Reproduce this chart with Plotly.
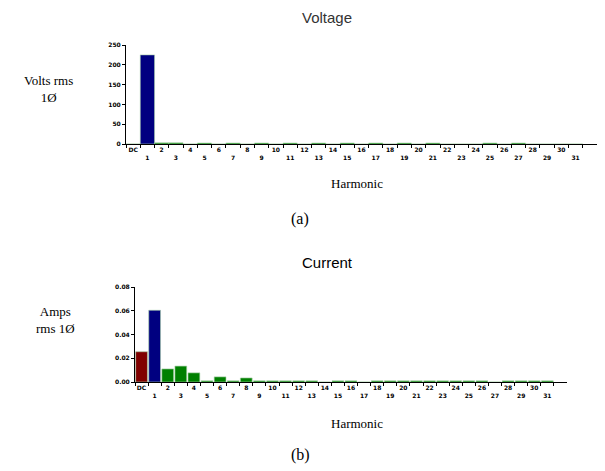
import plotly.graph_objects as go

categories = ["DC"] + [str(i) for i in range(1, 32)]

# Voltage (Volts rms) per harmonic
voltage = [0, 225, 3, 3, 0, 2.5, 0, 2.5, 0, 2.5, 0, 2.5, 0, 2.5, 0, 2.5, 0,
           2.5, 0, 2.5, 0, 2.5, 0, 0, 0, 2.5, 0, 2.5, 0, 0, 0, 0]
# Current (Amps rms) per harmonic
current = [0.0255, 0.0604, 0.0110, 0.0134, 0.0077, 0.0010, 0.0043, 0.0010, 0.0034,
           0.0010, 0.0010, 0.0010, 0.0010, 0.0010, 0, 0.0010, 0.0010, 0,
           0.0010, 0.0010, 0.0010, 0.0010, 0.0010, 0.0010, 0.0010, 0.0010, 0.0010,
           0, 0.0010, 0.0010, 0.0010, 0.0010]

volt_ticks = ["0", "50", "100", "150", "200", "250"]
amp_ticks = ["0.00", "0.02", "0.04", "0.06", "0.08"]

RED, BLUE, GREEN = "#800000", "#000080", "#008000"

def colors(n):
    return [RED] + [BLUE] + [GREEN] * (n - 2)

ticktext = [c if i % 2 == 0 else "<br>" + c for i, c in enumerate(categories)]

W, H = 605, 471

def px_x(a, b):
    return [a / W, b / W]

def px_y(top, bottom):
    return [1 - bottom / H, 1 - top / H]

fig = go.Figure()
fig.add_trace(go.Bar(x=categories, y=voltage, marker=dict(color=colors(len(voltage)),
                     line=dict(color="#a8d0a8", width=0.6)),
                     width=1.0, xaxis="x", yaxis="y", showlegend=False))
fig.add_trace(go.Bar(x=categories, y=current, marker=dict(color=colors(len(current)),
                     line=dict(color="#a8d0a8", width=0.6)),
                     width=0.9, xaxis="x2", yaxis="y2", showlegend=False))

tickfont = dict(family="DejaVu Sans", size=6, color="#000", weight="bold")
xcommon = dict(type="category", tickmode="array", tickvals=categories, ticktext=ticktext,
               tickfont=tickfont, showline=True, linecolor="#000", linewidth=1,
               ticks="outside", ticklen=3, tickson="boundaries", tickcolor="#000",
               showgrid=False, zeroline=False, fixedrange=True, tickangle=0,
               automargin=False)
ycommon = dict(showline=True, linecolor="#000", linewidth=1, ticks="outside", ticklen=3,
               tickcolor="#000", tickfont=tickfont, showgrid=False, zeroline=False,
               tickmode="array", fixedrange=True, automargin=False)

fig.update_layout(
    width=W, height=H, margin=dict(l=0, r=0, t=0, b=0, pad=0, autoexpand=False),
    paper_bgcolor="white", plot_bgcolor="white", bargap=0,
    xaxis=dict(domain=px_x(126, 597), anchor="y", range=[-0.5, 32.5], **xcommon),
    yaxis=dict(domain=px_y(45, 144), anchor="x", range=[0, 250],
               tickvals=[0, 50, 100, 150, 200, 250], ticktext=volt_ticks, **ycommon),
    xaxis2=dict(domain=px_x(135, 567), anchor="y2", range=[-0.5, 32.5], **xcommon),
    yaxis2=dict(domain=px_y(287, 382), anchor="x2", range=[0, 0.08],
                tickvals=[0, 0.02, 0.04, 0.06, 0.08], ticktext=amp_ticks, **ycommon),
)

serif = "Liberation Serif"
ann = [
    dict(text="Voltage", x=327, y=18, font=dict(family="Arial", size=15, color="#333")),
    dict(text="Volts rms<br>1Ø", x=48, y=89, font=dict(family=serif, size=13, color="#000")),
    dict(text="Harmonic", x=357, y=183, font=dict(family=serif, size=13, color="#000")),
    dict(text="(a)", x=300, y=219, font=dict(family=serif, size=16, color="#000")),
    dict(text="Current", x=327, y=262, font=dict(family="Arial", size=15, color="#000")),
    dict(text="Amps<br>rms 1Ø", x=55, y=320, font=dict(family=serif, size=13, color="#000")),
    dict(text="Harmonic", x=357, y=423, font=dict(family=serif, size=13, color="#000")),
    dict(text="(b)", x=300, y=455, font=dict(family=serif, size=16, color="#000")),
]
for a in ann:
    fig.add_annotation(text=a["text"], x=a["x"] / W, y=1 - a["y"] / H, xref="paper",
                       yref="paper", showarrow=False, font=a["font"],
                       xanchor="center", yanchor="middle")

fig.write_html("out.html", config={"displayModeBar": False, "staticPlot": True},
               post_script="document.body.style.margin='0';"
                           "document.body.style.overflow='hidden';")
